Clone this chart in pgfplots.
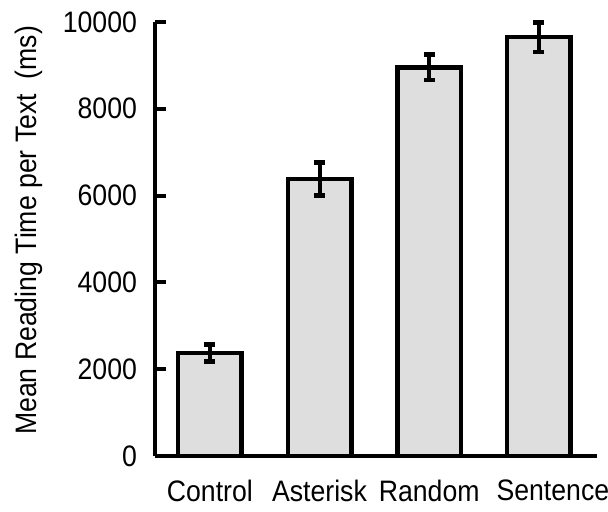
\documentclass[border=0pt]{standalone}
\usepackage{fontspec}
\setmainfont{Liberation Sans}[FakeStretch=0.9]
\usepackage{pgfplots}
\pgfplotsset{compat=1.18}
\definecolor{barfill}{RGB}{222,222,222}

\begin{document}
\begin{tikzpicture}
\begin{axis}[
    at={(77.5pt,28pt)}, anchor=south west,
    scale only axis, width=221pt, height=217pt,
    ybar, bar width=0.58,
    xmin=-0.5, xmax=3.53,
    ymin=0, ymax=10000,
    axis x line=bottom, axis y line=left,
    axis line style={-, line width=2pt, black},
    xtick=data,
    xticklabels={Control, Asterisk, Random, \hspace*{14pt}Sentence},
    xtick style={draw=none},
    ytick={0,2000,4000,6000,8000,10000},
    ytick style={line width=2pt, black},
    tick align=inside, major tick length=5.5pt,
    scaled y ticks=false,
    /pgf/number format/.cd, 1000 sep={}, assume math mode=true, /pgfplots/.cd,
    tick label style={font=\fontsize{14.8}{16}\selectfont},
    yticklabel style={xshift=-5.5pt},
    xticklabel style={yshift=-8.5pt},
    ylabel={Mean Reading Time per Text \ (ms)},
    ylabel style={font=\fontsize{14.8}{16}\selectfont, at={(axis description cs:-0.285,0.52)}, anchor=center},
    clip=false,
]
\addplot+[fill=barfill, draw=black, line width=2.2pt,
    error bars/.cd, y dir=both, y explicit,
    error bar style={line width=2pt, black},
    error mark options={rotate=90, mark size=2.7pt, line width=2.4pt, black}]
    coordinates {
    (0,2370) +- (0,200)
    (1,6380) +- (0,380)
    (2,8955) +- (0,290)
    (3,9650) +- (0,340)
    };
\end{axis}
\pgfresetboundingbox
\useasboundingbox (0,0) rectangle (304pt,256pt);
\end{tikzpicture}
\end{document}
